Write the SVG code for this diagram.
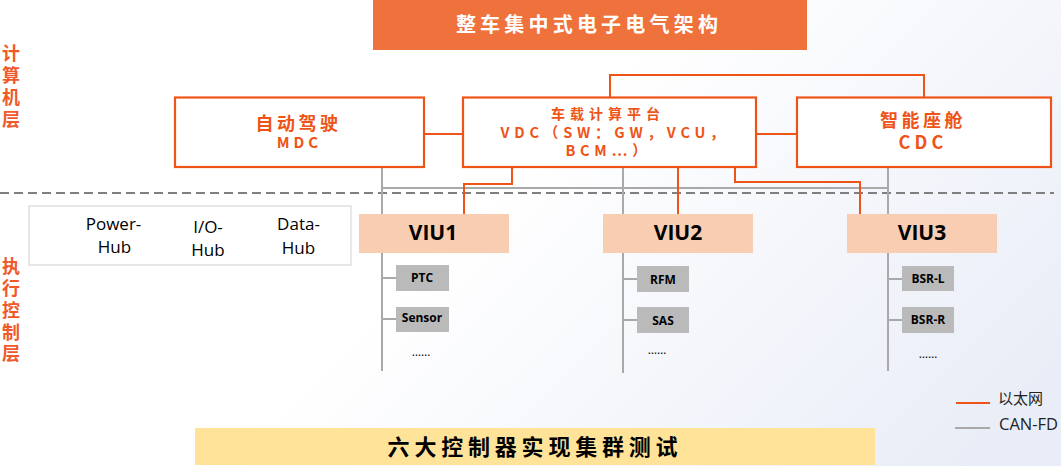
<svg xmlns="http://www.w3.org/2000/svg" width="1061" height="466" viewBox="0 0 1061 466">
<style>
text{font-family:"Noto Sans CJK SC","Noto Sans",sans-serif;text-anchor:middle}
.box{fill:#fff;stroke:#ee5417;stroke-width:2.2}
.o{fill:#ee5417;font-weight:700}
.eth{fill:none;stroke:#ee5417;stroke-width:2}
.can{fill:none;stroke:#a9a9a9;stroke-width:2}
.viu{fill:#f8cdb1}
.viut{font-family:"Open Sans","Noto Sans",sans-serif;font-size:21px;font-weight:700;fill:#000}
.ecu{fill:#bababa}
.ecut{font-family:"Open Sans","Noto Sans",sans-serif;font-size:12px;font-weight:700;fill:#000}
.dots{font-family:"Open Sans",sans-serif;font-size:12px;fill:#000}
.hub{font-family:"Open Sans",sans-serif;font-size:17px;fill:#000}
.side{fill:#f0592a;font-size:18px;font-weight:700}
.leg{font-size:15px;fill:#222;font-family:"Open Sans","Noto Sans CJK SC",sans-serif;text-anchor:start}
</style>
<defs>
<linearGradient id="bg" gradientUnits="userSpaceOnUse" x1="480" y1="200" x2="860" y2="580">
<stop offset="0" stop-color="#ffffff"/><stop offset="1" stop-color="#e9edf7"/>
</linearGradient>
</defs>
<rect id="background" width="1061" height="466" fill="url(#bg)"/>
<g id="title"><rect x="373" y="0" width="434" height="50" fill="#ef713b"/>
<text x="589" y="32" fill="#fff" font-size="20" font-weight="700" letter-spacing="4.200">整车集中式电子电气架构</text></g>
<line id="divider" x1="0" y1="193" x2="1054" y2="193" stroke="#7f7f7f" stroke-width="2" stroke-dasharray="9 5"/>
<g id="connectors">
<path class="can" d="M382 167V214M382 188H888M623 167V214M888 167V214"/>
<path class="can" d="M382 253V371M382 278H397M382 319H397"/>
<path class="can" d="M623 253V373M623 279H637M623 320H637"/>
<path class="can" d="M888 253V371M888 279H902M888 320H902"/>
<path class="eth" d="M424 134H463M757 134H797M610 97V75H924V97"/>
<path class="eth" d="M512 167V184H464V214M678 167V214M735 167V182H860V214"/>
</g>
<g id="mdc"><rect class="box" x="175" y="97.500" width="249" height="69.500"/>
<text class="o" x="298.500" y="130" font-size="18" letter-spacing="3.500">自动驾驶</text>
<text class="o" x="299.500" y="148" font-size="15" font-family="Open Sans" letter-spacing="4">MDC</text></g>
<g id="vdc"><rect class="box" x="463" y="97.500" width="293" height="69.500"/>
<text class="o" x="608" y="119" font-size="14" letter-spacing="5">车载计算平台</text>
<text class="o" x="615" y="138" font-size="14.500" letter-spacing="4.800">VDC（SW：GW，VCU，</text>
<text class="o" x="608.500" y="156" font-size="14.500" letter-spacing="4.800">BCM…）</text></g>
<g id="cdc"><rect class="box" x="797" y="97.500" width="254" height="69.500"/>
<text class="o" x="923" y="127" font-size="18" letter-spacing="3.500">智能座舱</text>
<text class="o" x="923" y="149" font-size="18" letter-spacing="4.200">CDC</text></g>
<g id="side-compute" class="side"><text x="11" y="60">计</text><text x="11" y="82">算</text><text x="11" y="104">机</text><text x="11" y="126">层</text></g>
<g id="side-exec" class="side"><text x="11" y="273">执</text><text x="11" y="295">行</text><text x="11" y="317">控</text><text x="11" y="339">制</text><text x="11" y="360">层</text></g>
<g id="hub-panel"><rect x="29" y="206" width="322" height="59" fill="#fff" stroke="#e7e7e7" stroke-width="2"/>
<text class="hub" x="113.500" y="230">Power-</text><text class="hub" x="114.500" y="253">Hub</text>
<text class="hub" x="208" y="233">I/O-</text><text class="hub" x="208" y="256">Hub</text>
<text class="hub" x="298.500" y="230">Data-</text><text class="hub" x="298.500" y="254">Hub</text></g>
<g id="viu1"><rect class="viu" x="359" y="214" width="150" height="39"/><text class="viut" x="433" y="240">VIU1</text></g>
<g id="viu2"><rect class="viu" x="603" y="214" width="150" height="39"/><text class="viut" x="678" y="240">VIU2</text></g>
<g id="viu3"><rect class="viu" x="847" y="214" width="150" height="39"/><text class="viut" x="922" y="240">VIU3</text></g>
<g id="ptc"><rect class="ecu" x="396" y="265" width="53" height="26"/><text class="ecut" x="422" y="282">PTC</text></g>
<g id="sensor"><rect class="ecu" x="396" y="307" width="53" height="25"/><text class="ecut" x="422" y="322">Sensor</text></g>
<g id="rfm"><rect class="ecu" x="637" y="266" width="52" height="26"/><text class="ecut" x="663" y="284">RFM</text></g>
<g id="sas"><rect class="ecu" x="637" y="307" width="52" height="26"/><text class="ecut" x="663" y="325">SAS</text></g>
<g id="bsrl"><rect class="ecu" x="902" y="266" width="52" height="25"/><text class="ecut" x="928" y="283">BSR-L</text></g>
<g id="bsrr"><rect class="ecu" x="902" y="307" width="52" height="26"/><text class="ecut" x="928" y="324">BSR-R</text></g>
<text class="dots" x="421" y="356">……</text>
<text class="dots" x="657" y="354">……</text>
<text class="dots" x="928" y="358">……</text>
<g id="legend"><line x1="956" y1="403" x2="990" y2="403" stroke="#ee5417" stroke-width="2"/>
<line x1="955" y1="428" x2="990" y2="428" stroke="#a9a9a9" stroke-width="2"/>
<text class="leg" x="998" y="404">以太网</text><text class="leg" x="999" y="430" style="font-size:16.500px">CAN-FD</text></g>
<g id="footer"><rect x="195" y="428" width="680" height="37" fill="#ffe399"/>
<text x="535" y="455" fill="#000" font-size="22" font-weight="700" letter-spacing="4.800">六大控制器实现集群测试</text></g>
</svg>
